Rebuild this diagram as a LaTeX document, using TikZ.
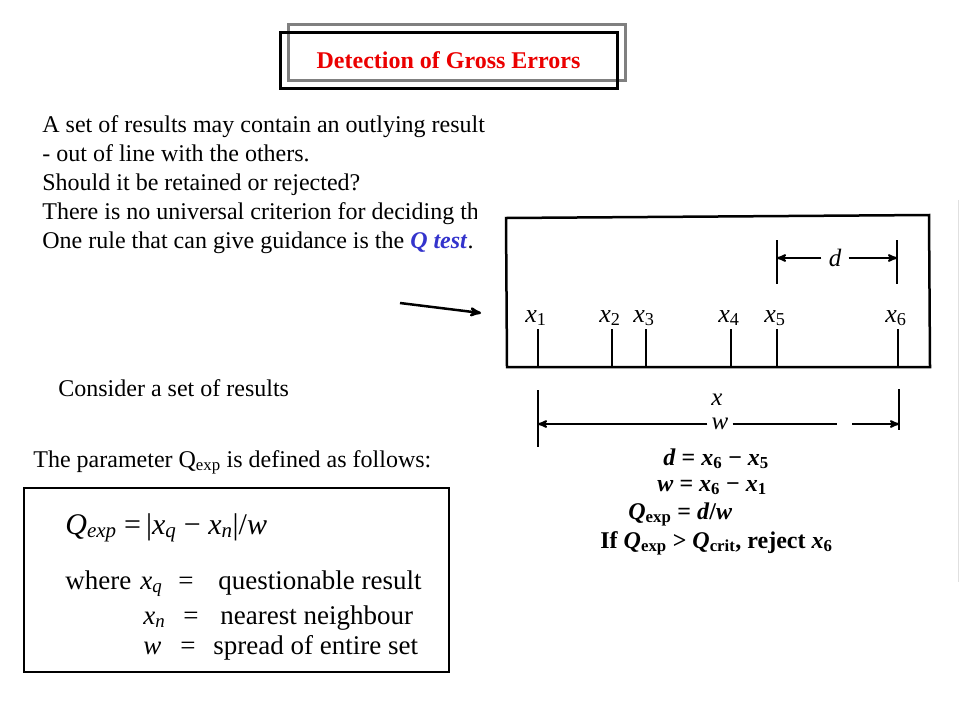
\documentclass[tikz,border=0pt]{standalone}
\usepackage{fontspec}
\setmainfont{Liberation Serif}
\usetikzlibrary{arrows,positioning}
\definecolor{qblue}{RGB}{51,51,204}
\definecolor{titlered}{RGB}{235,0,0}
\newcommand{\xsub}[1]{\textit{x}\textsubscript{#1}}

\begin{document}
\begin{tikzpicture}[x=1pt,y=-1pt,>=stealth',thick,
text node/.style={anchor=base west,inner sep=0pt,font=\fontsize{24}{29}\selectfont},
title node/.style={draw,line width=3pt,minimum width=337pt,minimum height=56pt,inner sep=0pt,outer sep=0pt,text=titlered,font=\fontsize{24}{28}\selectfont\bfseries},
fig label/.style={anchor=base,inner sep=3pt,font=\fontsize{26}{30}\selectfont},
eq node/.style={anchor=base west,inner sep=0pt,font=\fontsize{24}{26}\selectfont\bfseries},
dim node/.style={inner sep=7pt,font=\fontsize{25}{28}\selectfont\itshape},
def node/.style={anchor=base west,inner sep=0pt,font=\fontsize{27}{32}\selectfont},
fig line/.style={line width=2.5pt},
dim line/.style={line width=2pt}]

\useasboundingbox (0,0) rectangle (960,720);

% title
\draw[gray,line width=3pt] (288,24) rectangle (625,80);
\node[title node] (title) at (448.5,60) {Detection of Gross Errors};

% text
\node[text node] (p1) at (42,132) {A set of results may contain an outlying result};
\node[text node,below=29pt of p1.base west,anchor=base west] (p2) {- out of line with the others.};
\node[text node,below=29pt of p2.base west,anchor=base west] (p3) {Should it be retained or rejected?};
\node[text node,below=29pt of p3.base west,anchor=base west] (p4) {There is no universal criterion for deciding th};
\node[text node,below=29pt of p4.base west,anchor=base west] (p5) {One rule that can give guidance is the \textcolor{qblue}{\textbf{\textit{Q test}}}.};

% the scanned figure
\fill[white] (477,196) rectangle (957,582);
\draw[black!12,line width=1pt] (958,200) -- (958,582);

\coordinate (a0) at (400,303);
\coordinate (a1) at (481,313);
\draw[->,line width=2.5pt] (a0) -- (a1);

\draw[fig line] (506,218) -- (929,215) -- (930,367) -- (507,367) -- cycle;

\coordinate (b1) at (538,367);
\coordinate (b2) at (612,367);
\coordinate (b3) at (646,367);
\coordinate (b4) at (731,367);
\coordinate (b5) at (777,367);
\coordinate (b6) at (898,367);
\node[fig label] (x1) at (536,322) {\xsub{1}};
\node[fig label] (x2) at (610,322) {\xsub{2}};
\node[fig label] (x3) at (644,322) {\xsub{3}};
\node[fig label] (x4) at (729,322) {\xsub{4}};
\node[fig label] (x5) at (775,322) {\xsub{5}};
\node[fig label] (x6) at (896,322) {\xsub{6}};
\draw[dim line] (b1) -- (b1 |- x1.south);
\draw[dim line] (b2) -- (b2 |- x2.south);
\draw[dim line] (b3) -- (b3 |- x3.south);
\draw[dim line] (b4) -- (b4 |- x4.south);
\draw[dim line] (b5) -- (b5 |- x5.south);
\draw[dim line] (b6) -- (b6 |- x6.south);

% d
\coordinate (d5) at (777,240);
\coordinate (d5b) at (777,284);
\coordinate (d6) at (897,240);
\coordinate (d6b) at (897,284);
\draw[dim line] (d5) -- (d5b);
\draw[dim line] (d6) -- (d6b);
\node[dim node] (d) at (835,258) {d};
\draw[dim line,->] (d) -- (d -| d5);
\draw[dim line,->] (d) -- (d -| d6);

% w
\coordinate (w1) at (538,390);
\coordinate (w1b) at (538,447);
\coordinate (w6) at (899,389);
\coordinate (w6b) at (899,430);
\draw[dim line] (w1) -- (w1b);
\draw[dim line] (w6) -- (w6b);
\node[dim node,inner sep=1pt] (xaxis) at (717,400) {x};
\node[dim node,inner sep=4pt] (w) at (720,424) {w};
\coordinate (gap1) at (837,424);
\coordinate (gap2) at (852,424);
\draw[dim line,->] (w) -- (w -| w1);
\draw[dim line] (w) -- (gap1);
\draw[dim line,->] (gap2) -- (gap2 -| w6);

\node[eq node] (e1) at (663,465) {\textit{d} = \xsub{6} − \xsub{5}};
\node[eq node] (e2) at (657,491) {\textit{w} = \xsub{6} − \xsub{1}};
\node[eq node] (e3) at (628,519) {\textit{Q}\textsubscript{exp} = \textit{d}/\textit{w}};
\node[eq node] (e4) at (600,548) {If \textit{Q}\textsubscript{exp} > \textit{Q}\textsubscript{crit}, reject \xsub{6}};

% left part
\node[text node] (cons) at (58,396) {Consider a set of results};
\node[text node] (param) at (33,467) {The parameter Q\textsubscript{exp} is defined as follows:};

\node[draw,line width=2pt,minimum width=425pt,minimum height=184pt,inner sep=0pt,outer sep=0pt] (qbox) at (236.5,580) {};
\node[def node,font=\fontsize{30}{34}\selectfont] (qexp) at (65,534) {\textit{Q}\textsubscript{\textit{exp}} =\,|\textit{x}\textsubscript{\textit{q}} − \textit{x}\textsubscript{\textit{n}}|/\textit{w}};
\node[def node] (where) at (65,589) {where};
\node[def node] (xq) at (140,589) {\textit{x}\textsubscript{\textit{q}}};
\node[def node] (eq1) at (178,589) {=};
\node[def node] (xqt) at (218,589) {questionable result};
\node[def node] (xn) at (143,624) {\textit{x}\textsubscript{\textit{n}}};
\node[def node] (eq2) at (183,624) {=};
\node[def node] (xnt) at (220,624) {nearest neighbour};
\node[def node] (wv) at (143,654) {\textit{w}};
\node[def node] (eq3) at (180,654) {=};
\node[def node] (wvt) at (213,654) {spread of entire set};
\end{tikzpicture}
\end{document}
